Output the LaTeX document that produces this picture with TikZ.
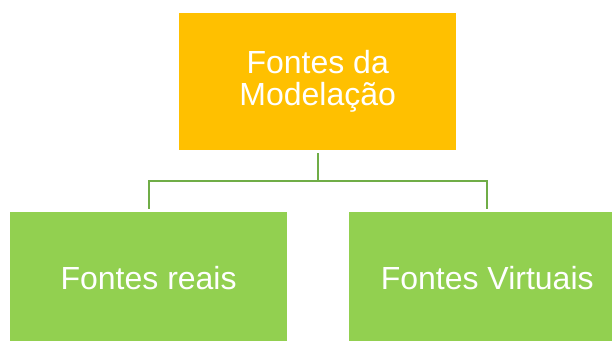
\documentclass[tikz,border=0pt]{standalone}
\usepackage{fontspec}
\setmainfont{Liberation Sans}
\usepackage{tikz}
\usetikzlibrary{positioning}
\definecolor{boxorange}{HTML}{FFC000}
\definecolor{boxgreen}{HTML}{92D050}
\definecolor{linegreen}{HTML}{70AD47}
\tikzset{
    boxo/.style = {rectangle, draw=none, align=center, fill=boxorange, text=white, font=\fontsize{32}{32}\selectfont, minimum width=276.7pt, minimum height=136.7pt, inner sep=0pt},
    boxg/.style = {rectangle, draw=none, align=center, fill=boxgreen, text=white, font=\fontsize{32}{32}\selectfont, minimum width=276.5pt, minimum height=132pt, inner sep=0pt},
    edgeg/.style = {-, line width=2pt, linegreen, shorten <=3pt, shorten >=3pt}
}
\begin{document}
\begin{tikzpicture}[x=1pt,y=-1pt]
\path[use as bounding box, clip] (0,0) rectangle (612,340);
\node[boxo] at (317.7, 81.7) (top) {Fontes da\\Modelação};
\node[boxg] at (148.6, 278.0) (reais) {Fontes reais};
\node[boxg] at (487.2, 278.0) (virt) {Fontes Virtuais};
\draw[edgeg] (top.south) -- ++(0,31) -| (reais.north);
\draw[edgeg] (top.south) -- ++(0,31) -| (virt.north);
\end{tikzpicture}
\end{document}
